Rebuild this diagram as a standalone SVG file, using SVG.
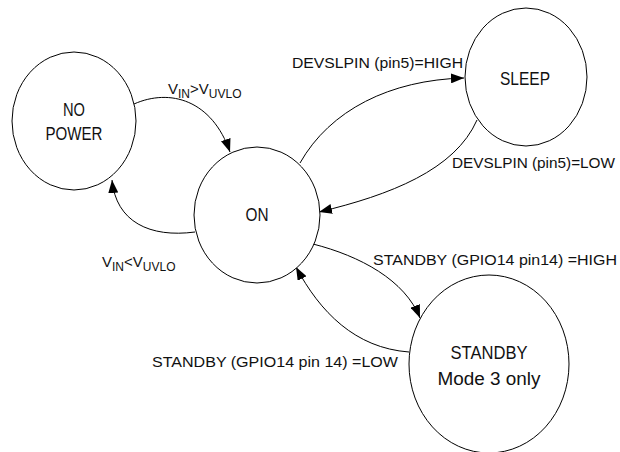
<svg xmlns="http://www.w3.org/2000/svg" width="620" height="452" viewBox="0 0 620 452">
<style>
.node ellipse{fill:#fff;stroke:#000;stroke-width:1}
.nt{font-family:"Liberation Sans",Arial,sans-serif;font-size:18px;fill:#111;text-anchor:middle}
.et{font-family:"Liberation Sans",Arial,sans-serif;font-size:14.5px;fill:#111}
.vt{font-family:"Liberation Sans",Arial,sans-serif;font-size:15px;fill:#111}
.sub{font-size:12px}
#edges path{fill:none;stroke:#000;stroke-width:1;marker-end:url(#arr)}
</style>
<defs>
<marker id="arr" markerUnits="userSpaceOnUse" markerWidth="14" markerHeight="10" refX="13" refY="5" orient="auto">
<path d="M0,0 L13,5 L0,10 Z" fill="#000"/>
</marker>
</defs>
<rect width="620" height="452" fill="#fff"/>
<g id="edges">
<path d="M134,104 C170,88 212,100 230,152"/>
<path d="M195,232 C150,238 116,222 112,180"/>
<path d="M300,163 C330,110 390,80 464,78"/>
<path d="M477,120 C455,170 390,195 319,212"/>
<path d="M313,244 C360,256 405,280 420,318"/>
<path d="M409,352 C355,348 320,312 296,267"/>
</g>
<g id="node-nopower" class="node">
<ellipse cx="74" cy="121" rx="62" ry="69"/>
<text class="nt" x="74" y="116" textLength="22" lengthAdjust="spacingAndGlyphs">NO</text>
<text class="nt" x="74" y="140" textLength="57" lengthAdjust="spacingAndGlyphs">POWER</text>
</g>
<g id="node-on" class="node">
<ellipse cx="257" cy="215" rx="63" ry="68"/>
<text class="nt" x="257" y="221" textLength="23" lengthAdjust="spacingAndGlyphs">ON</text>
</g>
<g id="node-sleep" class="node">
<ellipse cx="526" cy="77" rx="61" ry="69"/>
<text class="nt" x="525" y="85" textLength="50" lengthAdjust="spacingAndGlyphs">SLEEP</text>
</g>
<g id="node-standby" class="node">
<ellipse cx="489" cy="364" rx="80" ry="89"/>
<text class="nt" x="489" y="359" textLength="77" lengthAdjust="spacingAndGlyphs">STANDBY</text>
<text class="nt" x="489" y="385" textLength="103" lengthAdjust="spacingAndGlyphs">Mode 3 only</text>
</g>
<g id="labels">
<text class="vt" x="168" y="94">V<tspan class="sub" dy="4">IN</tspan><tspan dy="-4">&gt;V</tspan><tspan class="sub" dy="4">UVLO</tspan></text>
<text class="vt" x="102" y="267">V<tspan class="sub" dy="4">IN</tspan><tspan dy="-4">&lt;V</tspan><tspan class="sub" dy="4">UVLO</tspan></text>
<text class="et" x="292" y="68" textLength="171" lengthAdjust="spacingAndGlyphs">DEVSLPIN (pin5)=HIGH</text>
<text class="et" x="452" y="168" textLength="163" lengthAdjust="spacingAndGlyphs">DEVSLPIN (pin5)=LOW</text>
<text class="et" x="373" y="265" textLength="244" lengthAdjust="spacingAndGlyphs">STANDBY (GPIO14 pin14) =HIGH</text>
<text class="et" x="152" y="367" textLength="246" lengthAdjust="spacingAndGlyphs">STANDBY (GPIO14 pin 14) =LOW</text>
</g>
</svg>
